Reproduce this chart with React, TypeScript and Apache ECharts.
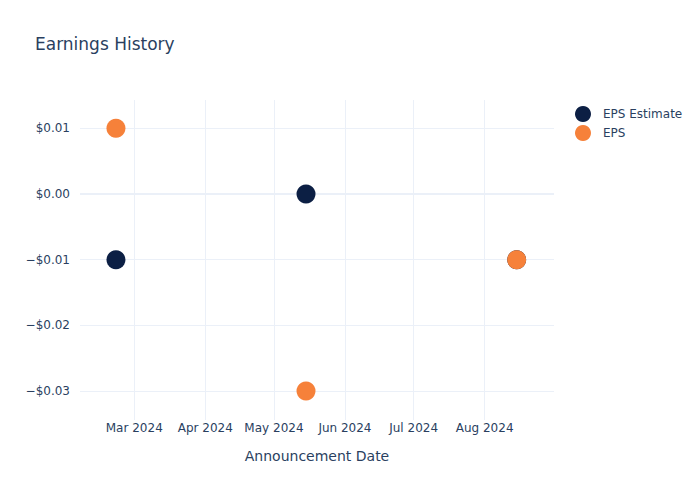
import React, { useEffect, useRef } from "react";
import * as echarts from "echarts";

const announcementDates = ["2024-02-22", "2024-05-15", "2024-08-15"];
const epsEstimate = [-0.01, 0.0, -0.01];
const epsActual = [0.01, -0.03, -0.01];
const yTicks = [-0.03, -0.02, -0.01, 0, 0.01];
const xTickMonths = ["2024-03-01", "2024-04-01", "2024-05-01", "2024-06-01", "2024-07-01", "2024-08-01"];
const monthNames = ["Jan", "Feb", "Mar", "Apr", "May", "Jun", "Jul", "Aug", "Sep", "Oct", "Nov", "Dec"];

const toTs = (s: string) => {
  const [y, m, d] = s.split("-").map(Number);
  return new Date(y, m - 1, d).getTime();
};
const DAY = 86400000;

export default function App() {
  const ref = useRef<HTMLDivElement>(null);
  useEffect(() => {
    if (!ref.current) return;
    const chart = echarts.init(ref.current, null, { renderer: "svg" });
    const font = "DejaVu Sans, Verdana, sans-serif";
    const txt = "#2a3f5f";
    const grid = "#ebf0f8";
    const mar1 = toTs("2024-03-01");
    chart.setOption({
      animation: false,
      backgroundColor: "#fff",
      textStyle: { fontFamily: font },
      title: {
        text: "Earnings History",
        left: 30,
        top: 30,
        textStyle: { fontFamily: font, fontSize: 17, fontWeight: "normal", color: txt },
      },
      legend: {
        orient: "vertical",
        left: 575,
        top: 106,
        itemWidth: 16,
        itemHeight: 16,
        itemGap: 3,
        padding: 0,
        icon: "circle",
        textStyle: { fontFamily: font, fontSize: 12, color: txt, padding: [0, 0, 0, 7] },
        data: ["EPS Estimate", "EPS"],
      },
      grid: { left: 80, right: 146, top: 100, bottom: 80, containLabel: false },
      xAxis: {
        type: "value",
        min: mar1 - 23.7 * DAY,
        max: mar1 + 183.3 * DAY,
        name: "Announcement Date",
        nameLocation: "middle",
        nameGap: 29,
        nameTextStyle: { fontFamily: font, fontSize: 14, color: txt },
        axisLine: { show: false },
        axisTick: { show: false, customValues: xTickMonths.map(toTs) },
        axisLabel: {
          customValues: xTickMonths.map(toTs),
          fontFamily: font,
          fontSize: 12,
          color: txt,
          margin: 2,
          formatter: (v: number) => {
            const d = new Date(v);
            return `${monthNames[d.getMonth()]} ${d.getFullYear()}`;
          },
        },
        splitLine: { show: true, lineStyle: { color: grid, width: 1 } },
      },
      yAxis: {
        type: "value",
        min: -0.03441,
        max: 0.01431,
        axisLine: { show: false },
        axisTick: { show: false, customValues: yTicks },
        axisLabel: {
          customValues: yTicks,
          fontFamily: font,
          fontSize: 12,
          color: txt,
          margin: 10,
          formatter: (v: number) => {
            const r = Math.round(v * 100) / 100;
            const s = "$" + Math.abs(r).toFixed(2);
            return r < 0 ? "\u2212" + s : s;
          },
        },
        splitLine: {
          show: true,
          lineStyle: { color: grid, width: 1 },
        },
      },
      series: [
        {
          name: "EPS Estimate",
          type: "scatter",
          symbolSize: 19,
          itemStyle: { color: "#0c1f44", opacity: 1 },
          data: announcementDates.map((d, i) => [toTs(d), epsEstimate[i]]),
          markLine: {
            silent: true,
            symbol: "none",
            label: { show: false },
            lineStyle: { color: grid, width: 2, type: "solid" },
            data: [{ yAxis: 0 }],
            z: 1,
          },
          z: 2,
        },
        {
          name: "EPS",
          type: "scatter",
          symbolSize: 19,
          itemStyle: { color: "#f6813a", opacity: 1 },
          data: announcementDates.map((d, i) => [toTs(d), epsActual[i]]),
          z: 3,
        },
      ],
    });
    return () => chart.dispose();
  }, []);
  return <div ref={ref} style={{ width: 700, height: 500, margin: -8 }} />;
}
